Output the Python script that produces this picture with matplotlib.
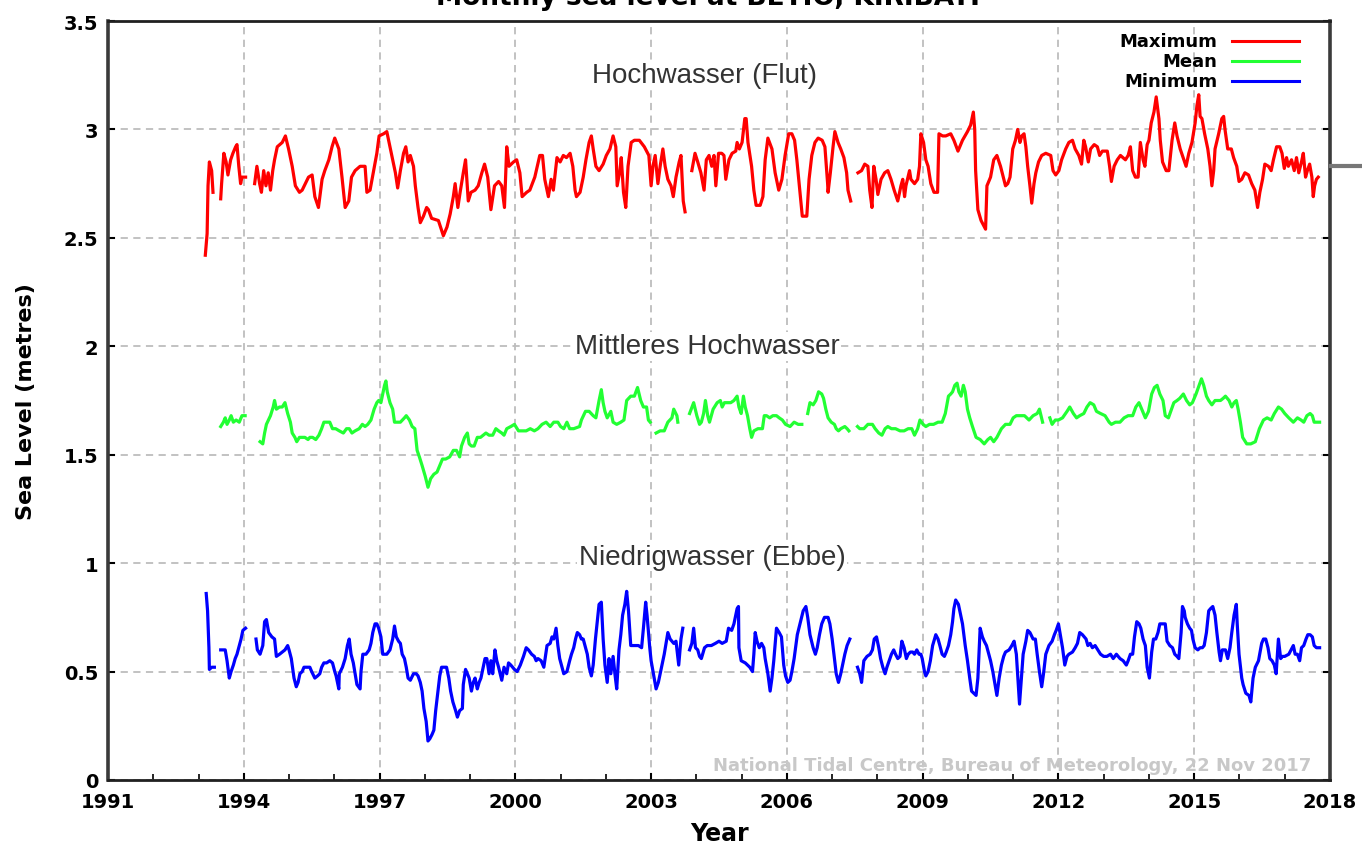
import numpy as np
import matplotlib
matplotlib.use("Agg")
import matplotlib.pyplot as plt
import matplotlib.ticker as mticker
from matplotlib.lines import Line2D

nan = np.nan

# Maximum monthly sea level (m), nan = data gap
max_years = [
    1993.15, 1993.19, 1993.21, 1993.24, 1993.29, 1993.32, 1993.40,
    1993.49, 1993.51, 1993.56, 1993.61, 1993.65, 1993.71, 1993.76, 1993.82, 1993.85, 1993.89, 1993.93, 1993.96, 1994.04, 1994.14,
    1994.24, 1994.29, 1994.35, 1994.39, 1994.44, 1994.49, 1994.54, 1994.59, 1994.64, 1994.68, 1994.74, 1994.85, 1994.92, 1994.99,
    1995.07, 1995.14, 1995.23, 1995.29, 1995.36, 1995.43, 1995.51, 1995.57, 1995.65, 1995.73, 1995.79, 1995.88, 1995.95, 1996.01,
    1996.10, 1996.17, 1996.24, 1996.32, 1996.38, 1996.46, 1996.57, 1996.68, 1996.72, 1996.79, 1996.87, 1996.94, 1996.99, 1997.09,
    1997.16, 1997.21, 1997.27, 1997.35, 1997.40, 1997.46, 1997.53, 1997.58, 1997.63, 1997.68, 1997.75, 1997.79, 1997.85, 1997.90,
    1997.97, 1998.04, 1998.08, 1998.15, 1998.30, 1998.41, 1998.49, 1998.56, 1998.63, 1998.67, 1998.73, 1998.78, 1998.85, 1998.90,
    1998.96, 1999.02, 1999.11, 1999.18, 1999.26, 1999.32, 1999.39, 1999.46, 1999.54, 1999.63, 1999.70, 1999.76, 1999.81, 1999.86,
    1999.96, 2000.03, 2000.10, 2000.15, 2000.25, 2000.32, 2000.43, 2000.54, 2000.60, 2000.65, 2000.73, 2000.79,
    2000.84, 2000.92, 2000.99, 2001.06, 2001.13, 2001.21, 2001.27, 2001.32, 2001.35, 2001.43, 2001.50, 2001.56, 2001.63, 2001.68,
    2001.72, 2001.78, 2001.85, 2001.94, 2002.01, 2002.09, 2002.16, 2002.22, 2002.25, 2002.31, 2002.34, 2002.39, 2002.44, 2002.49,
    2002.56, 2002.63, 2002.74, 2002.85, 2002.95, 2003.00, 2003.04, 2003.09, 2003.15, 2003.20, 2003.26, 2003.31, 2003.37, 2003.44,
    2003.49, 2003.55, 2003.62, 2003.66, 2003.71, 2003.75, 2003.82,
    2003.90, 2003.97, 2004.03, 2004.10, 2004.17, 2004.22, 2004.28, 2004.34, 2004.39, 2004.43, 2004.49, 2004.56, 2004.61, 2004.65,
    2004.72, 2004.79, 2004.87, 2004.90, 2004.95, 2005.01, 2005.07, 2005.10, 2005.14, 2005.22, 2005.27, 2005.32, 2005.41, 2005.47,
    2005.52, 2005.58, 2005.67, 2005.74, 2005.82, 2005.89, 2005.96, 2006.04, 2006.11, 2006.17, 2006.22, 2006.29, 2006.34, 2006.44,
    2006.49, 2006.55, 2006.62, 2006.69, 2006.78, 2006.84, 2006.90, 2006.91, 2006.96, 2007.02, 2007.06, 2007.13, 2007.19, 2007.26,
    2007.32, 2007.35, 2007.41, 2007.49,
    2007.57, 2007.65, 2007.72, 2007.79, 2007.83, 2007.88, 2007.92, 2007.97, 2008.01, 2008.08, 2008.16, 2008.23, 2008.30, 2008.37,
    2008.45, 2008.52, 2008.56, 2008.60, 2008.63, 2008.71, 2008.74, 2008.82, 2008.89, 2008.93, 2008.96, 2009.02, 2009.07, 2009.12,
    2009.18, 2009.25, 2009.33, 2009.36, 2009.44, 2009.51, 2009.62, 2009.69, 2009.78, 2009.88, 2009.99, 2010.06, 2010.12, 2010.15,
    2010.17, 2010.22, 2010.29, 2010.39, 2010.42, 2010.50, 2010.57, 2010.64, 2010.72,
    2010.83, 2010.88, 2010.93, 2010.99, 2011.05, 2011.10, 2011.15, 2011.19, 2011.24, 2011.28, 2011.32, 2011.37, 2011.41, 2011.46,
    2011.50, 2011.56, 2011.63, 2011.72, 2011.83, 2011.88, 2011.94, 2012.01, 2012.07, 2012.16, 2012.23, 2012.31, 2012.37, 2012.45,
    2012.51, 2012.56, 2012.60, 2012.66, 2012.71, 2012.79, 2012.86, 2012.91, 2012.97, 2013.08, 2013.13, 2013.17, 2013.23, 2013.30,
    2013.37, 2013.48, 2013.54, 2013.59, 2013.64, 2013.70, 2013.76, 2013.81, 2013.87, 2013.91, 2013.96, 2014.00, 2014.05, 2014.11,
    2014.16, 2014.22, 2014.25, 2014.30, 2014.38, 2014.44, 2014.51, 2014.57, 2014.62, 2014.69, 2014.77, 2014.82, 2014.88, 2014.95,
    2015.02, 2015.06, 2015.10, 2015.13, 2015.17, 2015.23, 2015.30, 2015.35, 2015.39, 2015.43, 2015.46, 2015.54, 2015.61, 2015.65,
    2015.68, 2015.74, 2015.82, 2015.87, 2015.94, 2015.99, 2016.05, 2016.12, 2016.20, 2016.27, 2016.34, 2016.40, 2016.45, 2016.51,
    2016.56, 2016.64, 2016.70, 2016.75, 2016.82, 2016.89, 2016.94, 2016.99, 2017.04, 2017.08, 2017.15, 2017.21, 2017.26, 2017.31,
    2017.37, 2017.41, 2017.46, 2017.50, 2017.55, 2017.60, 2017.63, 2017.66, 2017.70, 2017.74,
]
max_vals = [
    2.42, 2.52, 2.74, 2.85, 2.81, 2.71, nan,
    2.68, 2.75, 2.89, 2.85, 2.79, 2.86, 2.89, 2.92, 2.93, 2.83, 2.75, 2.78, 2.78, nan,
    2.75, 2.83, 2.75, 2.71, 2.81, 2.74, 2.80, 2.72, 2.81, 2.86, 2.92, 2.94, 2.97, 2.91,
    2.83, 2.74, 2.71, 2.72, 2.75, 2.78, 2.79, 2.69, 2.64, 2.77, 2.81, 2.86, 2.92, 2.96,
    2.91, 2.78, 2.64, 2.67, 2.78, 2.81, 2.83, 2.83, 2.71, 2.72, 2.81, 2.89, 2.97, 2.98,
    2.99, 2.94, 2.88, 2.80, 2.73, 2.81, 2.89, 2.92, 2.85, 2.88, 2.83, 2.74, 2.64, 2.57,
    2.60, 2.64, 2.63, 2.59, 2.58, 2.51, 2.55, 2.61, 2.69, 2.75, 2.64, 2.71, 2.80, 2.86,
    2.67, 2.71, 2.72, 2.74, 2.80, 2.84, 2.78, 2.63, 2.74, 2.76, 2.74, 2.64, 2.92, 2.83,
    2.85, 2.86, 2.80, 2.69, 2.71, 2.72, 2.78, 2.88, 2.88, 2.77, 2.69, 2.77,
    2.72, 2.87, 2.85, 2.88, 2.87, 2.89, 2.83, 2.72, 2.69, 2.71, 2.78, 2.86, 2.94, 2.97,
    2.91, 2.83, 2.81, 2.84, 2.88, 2.91, 2.97, 2.92, 2.74, 2.81, 2.87, 2.71, 2.64, 2.83,
    2.94, 2.95, 2.95, 2.92, 2.88, 2.74, 2.83, 2.88, 2.75, 2.83, 2.91, 2.83, 2.77, 2.74,
    2.69, 2.78, 2.85, 2.88, 2.67, 2.62, nan,
    2.81, 2.89, 2.85, 2.80, 2.72, 2.86, 2.88, 2.83, 2.88, 2.74, 2.89, 2.89, 2.88, 2.77,
    2.86, 2.89, 2.90, 2.94, 2.91, 2.94, 3.05, 3.05, 2.94, 2.83, 2.72, 2.65, 2.65, 2.69,
    2.86, 2.96, 2.91, 2.80, 2.72, 2.77, 2.88, 2.98, 2.98, 2.95, 2.86, 2.71, 2.60, 2.60,
    2.77, 2.88, 2.94, 2.96, 2.95, 2.92, 2.75, 2.71, 2.80, 2.92, 2.99, 2.94, 2.91, 2.87,
    2.80, 2.72, 2.67, nan,
    2.80, 2.81, 2.84, 2.83, 2.72, 2.64, 2.83, 2.77, 2.70, 2.77, 2.80, 2.81, 2.77, 2.72,
    2.67, 2.74, 2.77, 2.69, 2.74, 2.81, 2.77, 2.75, 2.77, 2.83, 2.98, 2.94, 2.86, 2.83,
    2.75, 2.71, 2.71, 2.98, 2.97, 2.97, 2.98, 2.95, 2.90, 2.95, 2.99, 3.02, 3.08, 3.00,
    2.81, 2.63, 2.58, 2.54, 2.74, 2.78, 2.86, 2.88, 2.83,
    2.74, 2.75, 2.78, 2.91, 2.95, 3.00, 2.94, 2.97, 2.98, 2.92, 2.83, 2.74, 2.66, 2.75,
    2.80, 2.85, 2.88, 2.89, 2.88, 2.81, 2.79, 2.81, 2.86, 2.91, 2.94, 2.95, 2.91, 2.88,
    2.84, 2.95, 2.92, 2.85, 2.91, 2.93, 2.92, 2.88, 2.90, 2.90, 2.83, 2.76, 2.83, 2.86,
    2.88, 2.86, 2.88, 2.92, 2.81, 2.78, 2.78, 2.94, 2.86, 2.83, 2.93, 2.95, 3.03, 3.08,
    3.15, 3.05, 2.95, 2.85, 2.81, 2.81, 2.95, 3.03, 2.97, 2.91, 2.86, 2.83, 2.89, 2.94,
    3.03, 3.11, 3.16, 3.06, 3.05, 2.98, 2.91, 2.83, 2.74, 2.81, 2.91, 2.98, 3.05, 3.06,
    3.00, 2.91, 2.91, 2.87, 2.83, 2.76, 2.77, 2.80, 2.79, 2.75, 2.72, 2.64, 2.71, 2.77,
    2.84, 2.83, 2.81, 2.86, 2.92, 2.92, 2.89, 2.82, 2.87, 2.83, 2.86, 2.81, 2.87, 2.80,
    2.85, 2.89, 2.78, 2.81, 2.84, 2.78, 2.69, 2.74, 2.77, 2.78,
]

# Mean monthly sea level (m)
mean_years = [
    1993.49, 1993.55, 1993.59, 1993.63, 1993.68, 1993.72, 1993.77, 1993.83, 1993.90, 1993.96, 1994.03, 1994.20,
    1994.36, 1994.42, 1994.46, 1994.50, 1994.59, 1994.65, 1994.68, 1994.72, 1994.79, 1994.85, 1994.91, 1994.97, 1995.03, 1995.07,
    1995.13, 1995.17, 1995.23, 1995.29, 1995.35, 1995.42, 1995.46, 1995.52, 1995.59, 1995.66, 1995.72, 1995.77, 1995.83, 1995.90,
    1995.96, 1996.03, 1996.11, 1996.20, 1996.27, 1996.33, 1996.39, 1996.46, 1996.55, 1996.62, 1996.68, 1996.74, 1996.81, 1996.88,
    1996.94, 1996.98, 1997.03, 1997.07, 1997.11, 1997.14, 1997.17, 1997.23, 1997.29, 1997.33, 1997.40, 1997.46, 1997.55, 1997.59,
    1997.66, 1997.72, 1997.78, 1997.83, 1997.88, 1997.94, 1998.01, 1998.07, 1998.13, 1998.20, 1998.27, 1998.33, 1998.39, 1998.46,
    1998.55, 1998.63, 1998.70, 1998.77, 1998.81, 1998.88, 1998.94, 1998.98, 1999.03, 1999.09, 1999.16, 1999.23, 1999.29, 1999.35,
    1999.42, 1999.50, 1999.57, 1999.63, 1999.70, 1999.75, 1999.81, 1999.90, 1999.98, 2000.07, 2000.16, 2000.24, 2000.33, 2000.42,
    2000.50, 2000.59, 2000.68, 2000.77, 2000.85, 2000.94, 2001.00, 2001.07, 2001.14, 2001.20, 2001.29, 2001.42, 2001.46, 2001.55,
    2001.63, 2001.72, 2001.78, 2001.85, 2001.90, 2001.94, 2001.98, 2002.03, 2002.11, 2002.16, 2002.24, 2002.33, 2002.40, 2002.46,
    2002.55, 2002.63, 2002.70, 2002.77, 2002.83, 2002.90, 2002.94, 2002.98, 2003.05,
    2003.11, 2003.20, 2003.29, 2003.37, 2003.46, 2003.50, 2003.57, 2003.59, 2003.72,
    2003.85, 2003.94, 2004.01, 2004.07, 2004.11, 2004.16, 2004.20, 2004.25, 2004.29, 2004.37, 2004.46, 2004.53,
    2004.57, 2004.62, 2004.68, 2004.76, 2004.83, 2004.90, 2004.94, 2004.99, 2005.04, 2005.08, 2005.13, 2005.18, 2005.22, 2005.27,
    2005.36, 2005.46, 2005.50, 2005.55, 2005.62, 2005.69, 2005.77, 2005.83, 2005.90, 2005.97, 2006.07, 2006.16, 2006.25, 2006.33,
    2006.40,
    2006.46, 2006.51, 2006.58, 2006.64, 2006.70, 2006.77, 2006.81, 2006.86, 2006.91, 2006.98, 2007.05, 2007.09, 2007.14, 2007.19,
    2007.28, 2007.33, 2007.37, 2007.47,
    2007.56, 2007.61, 2007.70, 2007.79, 2007.89, 2007.95, 2008.03, 2008.10, 2008.17, 2008.23, 2008.31, 2008.40, 2008.50, 2008.59,
    2008.68, 2008.76, 2008.82, 2008.89, 2008.94, 2009.01, 2009.07, 2009.15, 2009.24, 2009.34, 2009.43, 2009.50, 2009.57, 2009.62,
    2009.66, 2009.71, 2009.76, 2009.80, 2009.85, 2009.90, 2009.94, 2009.99, 2010.04, 2010.10, 2010.18, 2010.27, 2010.36, 2010.44,
    2010.50, 2010.57, 2010.64, 2010.74, 2010.83, 2010.93, 2011.00, 2011.07, 2011.16, 2011.25, 2011.35, 2011.44, 2011.53, 2011.58,
    2011.65, 2011.73,
    2011.81, 2011.86, 2011.93, 2012.00, 2012.09, 2012.19, 2012.25, 2012.33, 2012.40, 2012.47, 2012.56, 2012.63, 2012.70, 2012.78,
    2012.84, 2012.93, 2013.03, 2013.12, 2013.17, 2013.26, 2013.36, 2013.45, 2013.54, 2013.64, 2013.71, 2013.78, 2013.84, 2013.92,
    2013.99, 2014.06, 2014.12, 2014.18, 2014.24, 2014.31, 2014.36, 2014.43, 2014.50, 2014.55, 2014.62, 2014.68, 2014.76, 2014.83,
    2014.90, 2014.96, 2015.04, 2015.11, 2015.16, 2015.21, 2015.27, 2015.32, 2015.39, 2015.46, 2015.50, 2015.58, 2015.64, 2015.69,
    2015.77, 2015.83, 2015.88, 2015.93, 2015.97, 2016.02, 2016.07, 2016.16, 2016.25, 2016.35, 2016.44, 2016.53, 2016.61, 2016.70,
    2016.77, 2016.86, 2016.93, 2017.00, 2017.09, 2017.19, 2017.28, 2017.36, 2017.42, 2017.49, 2017.56, 2017.61, 2017.65, 2017.73,
    2017.77,
]
mean_vals = [
    1.63, 1.65, 1.67, 1.64, 1.66, 1.68, 1.65, 1.66, 1.65, 1.68, 1.68, nan,
    1.56, 1.55, 1.60, 1.64, 1.68, 1.72, 1.75, 1.71, 1.72, 1.72, 1.74, 1.69, 1.65, 1.60,
    1.58, 1.56, 1.58, 1.58, 1.58, 1.57, 1.58, 1.58, 1.57, 1.59, 1.62, 1.65, 1.65, 1.65,
    1.62, 1.62, 1.61, 1.60, 1.62, 1.62, 1.60, 1.61, 1.62, 1.64, 1.63, 1.64, 1.66, 1.71,
    1.74, 1.75, 1.74, 1.78, 1.82, 1.84, 1.79, 1.74, 1.71, 1.65, 1.65, 1.65, 1.67, 1.68,
    1.66, 1.63, 1.62, 1.52, 1.49, 1.45, 1.40, 1.35, 1.39, 1.41, 1.42, 1.45, 1.48, 1.48,
    1.49, 1.52, 1.52, 1.49, 1.54, 1.58, 1.60, 1.55, 1.54, 1.54, 1.58, 1.58, 1.59, 1.60,
    1.59, 1.59, 1.62, 1.61, 1.60, 1.59, 1.62, 1.63, 1.64, 1.61, 1.61, 1.61, 1.62, 1.61,
    1.62, 1.64, 1.65, 1.63, 1.65, 1.65, 1.63, 1.62, 1.65, 1.62, 1.62, 1.63, 1.66, 1.70,
    1.70, 1.68, 1.67, 1.75, 1.80, 1.74, 1.70, 1.67, 1.70, 1.65, 1.64, 1.65, 1.66, 1.75,
    1.77, 1.77, 1.81, 1.75, 1.72, 1.72, 1.66, 1.65, nan,
    1.60, 1.61, 1.61, 1.65, 1.67, 1.71, 1.68, 1.65, nan,
    1.69, 1.74, 1.68, 1.64, 1.65, 1.69, 1.75, 1.68, 1.65, 1.71, 1.74, 1.75,
    1.72, 1.74, 1.74, 1.74, 1.75, 1.77, 1.72, 1.69, 1.77, 1.72, 1.68, 1.62, 1.58, 1.61,
    1.62, 1.62, 1.68, 1.68, 1.67, 1.68, 1.68, 1.67, 1.66, 1.64, 1.63, 1.65, 1.64, 1.64,
    nan,
    1.69, 1.74, 1.73, 1.75, 1.79, 1.78, 1.76, 1.71, 1.67, 1.65, 1.64, 1.62, 1.61, 1.62,
    1.63, 1.62, 1.61, nan,
    1.63, 1.62, 1.62, 1.64, 1.64, 1.62, 1.60, 1.59, 1.62, 1.63, 1.62, 1.62, 1.61, 1.61,
    1.62, 1.62, 1.59, 1.62, 1.66, 1.64, 1.63, 1.64, 1.64, 1.65, 1.65, 1.69, 1.77, 1.78,
    1.79, 1.82, 1.83, 1.79, 1.77, 1.82, 1.79, 1.71, 1.67, 1.63, 1.58, 1.57, 1.55, 1.57,
    1.58, 1.56, 1.58, 1.62, 1.64, 1.64, 1.67, 1.68, 1.68, 1.68, 1.66, 1.68, 1.69, 1.71,
    1.65, nan,
    1.67, 1.64, 1.66, 1.66, 1.67, 1.70, 1.72, 1.69, 1.67, 1.68, 1.69, 1.72, 1.74, 1.73,
    1.70, 1.69, 1.68, 1.65, 1.64, 1.65, 1.65, 1.67, 1.68, 1.68, 1.72, 1.74, 1.71, 1.67,
    1.70, 1.78, 1.81, 1.82, 1.78, 1.75, 1.68, 1.67, 1.71, 1.74, 1.75, 1.76, 1.78, 1.75,
    1.73, 1.74, 1.78, 1.82, 1.85, 1.82, 1.77, 1.75, 1.73, 1.75, 1.75, 1.75, 1.76, 1.77,
    1.75, 1.72, 1.74, 1.75, 1.71, 1.65, 1.58, 1.55, 1.55, 1.56, 1.62, 1.66, 1.67, 1.66,
    1.69, 1.72, 1.71, 1.69, 1.67, 1.65, 1.67, 1.66, 1.65, 1.68, 1.69, 1.68, 1.65, 1.65,
    1.65,
]

# Minimum monthly sea level (m)
min_years = [
    1993.17, 1993.20, 1993.23, 1993.24, 1993.29, 1993.35, 1993.42,
    1993.49, 1993.59, 1993.63, 1993.68, 1993.72, 1993.77, 1993.81, 1993.85, 1993.90, 1993.94, 1993.98, 1994.04, 1994.15,
    1994.27, 1994.30, 1994.36, 1994.42, 1994.46, 1994.50, 1994.55, 1994.62, 1994.68, 1994.72, 1994.79, 1994.85, 1994.91, 1994.97,
    1995.00, 1995.05, 1995.11, 1995.16, 1995.20, 1995.24, 1995.29, 1995.33, 1995.40, 1995.46, 1995.50, 1995.57, 1995.63, 1995.68,
    1995.72, 1995.77, 1995.83, 1995.90, 1995.96, 1996.01, 1996.04, 1996.10, 1996.11, 1996.18, 1996.24, 1996.29, 1996.33, 1996.37,
    1996.42, 1996.46, 1996.50, 1996.57, 1996.59, 1996.63, 1996.70, 1996.77, 1996.81, 1996.85, 1996.90, 1996.94, 1996.98, 1997.03,
    1997.07, 1997.16, 1997.23, 1997.29, 1997.33, 1997.37, 1997.42, 1997.46, 1997.50, 1997.55, 1997.59, 1997.63, 1997.68, 1997.75,
    1997.81, 1997.85, 1997.90, 1997.94, 1997.98, 1998.03, 1998.07, 1998.11, 1998.16, 1998.20, 1998.24, 1998.29, 1998.33, 1998.37,
    1998.42, 1998.48, 1998.53, 1998.57, 1998.62, 1998.68, 1998.72, 1998.77, 1998.83, 1998.85, 1998.90, 1998.94, 1998.98, 1999.03,
    1999.07, 1999.11, 1999.16, 1999.20, 1999.24, 1999.29, 1999.33, 1999.37, 1999.42, 1999.46, 1999.50, 1999.55, 1999.59, 1999.63,
    1999.70, 1999.75, 1999.81, 1999.85, 1999.90, 1999.94, 1999.98, 2000.04, 2000.11, 2000.18, 2000.24, 2000.29, 2000.36, 2000.42,
    2000.46, 2000.50, 2000.57, 2000.63, 2000.70, 2000.77, 2000.81, 2000.85, 2000.90, 2000.94, 2000.98, 2001.03, 2001.07, 2001.14,
    2001.20, 2001.24, 2001.29, 2001.33, 2001.37, 2001.42, 2001.46, 2001.50, 2001.55, 2001.59, 2001.63, 2001.68, 2001.72, 2001.77,
    2001.81, 2001.85, 2001.90, 2001.94, 2001.98, 2002.03, 2002.07, 2002.11, 2002.16, 2002.20, 2002.24, 2002.29, 2002.33, 2002.37,
    2002.42, 2002.46, 2002.50, 2002.55, 2002.63, 2002.72, 2002.79, 2002.83, 2002.88, 2002.91, 2002.97, 2003.00, 2003.05, 2003.11,
    2003.16, 2003.20, 2003.24, 2003.29, 2003.33, 2003.37, 2003.42, 2003.46, 2003.50, 2003.55, 2003.61, 2003.66, 2003.70, 2003.78,
    2003.85, 2003.90, 2003.94, 2003.98, 2004.03, 2004.07, 2004.11, 2004.18, 2004.24, 2004.33, 2004.42, 2004.50,
    2004.57, 2004.66, 2004.71, 2004.78, 2004.83, 2004.90, 2004.93, 2004.94, 2004.99, 2005.08, 2005.18, 2005.24, 2005.27, 2005.30,
    2005.34, 2005.39, 2005.44, 2005.49, 2005.52, 2005.58, 2005.63, 2005.67, 2005.71, 2005.77, 2005.83, 2005.88, 2005.93, 2005.97,
    2006.02, 2006.07, 2006.11, 2006.16, 2006.23, 2006.30, 2006.36, 2006.42, 2006.46, 2006.51, 2006.58, 2006.63, 2006.67, 2006.72,
    2006.77, 2006.83, 2006.91, 2006.95, 2007.00, 2007.05, 2007.09, 2007.14, 2007.19, 2007.23, 2007.28, 2007.33, 2007.39, 2007.48,
    2007.56, 2007.61, 2007.65, 2007.70, 2007.77, 2007.84, 2007.89, 2007.93, 2007.98, 2008.03, 2008.07, 2008.12, 2008.17, 2008.21,
    2008.26, 2008.31, 2008.36, 2008.40, 2008.45, 2008.50, 2008.54, 2008.59, 2008.64, 2008.68, 2008.73, 2008.78, 2008.82, 2008.87,
    2008.92, 2008.96, 2008.99, 2009.04, 2009.07, 2009.12, 2009.17, 2009.22, 2009.29, 2009.34, 2009.38, 2009.43, 2009.48, 2009.52,
    2009.57, 2009.62, 2009.66, 2009.69, 2009.73, 2009.79, 2009.82, 2009.88, 2009.94, 2009.99, 2010.04, 2010.08, 2010.13, 2010.18,
    2010.22, 2010.27, 2010.32, 2010.36, 2010.41, 2010.46, 2010.50, 2010.55, 2010.60, 2010.64, 2010.69, 2010.74, 2010.79, 2010.83,
    2010.91, 2010.97, 2011.02, 2011.07, 2011.11, 2011.14, 2011.19, 2011.22, 2011.28, 2011.32, 2011.37, 2011.44, 2011.49, 2011.53,
    2011.58, 2011.63, 2011.67, 2011.72, 2011.79, 2011.86, 2011.91, 2011.95, 2012.00, 2012.05, 2012.09, 2012.14, 2012.19, 2012.23,
    2012.31, 2012.37, 2012.42, 2012.47, 2012.53, 2012.61, 2012.65, 2012.70, 2012.75, 2012.81, 2012.87, 2012.93, 2013.00, 2013.07,
    2013.15, 2013.21, 2013.28, 2013.36, 2013.43, 2013.50, 2013.54, 2013.59, 2013.64, 2013.68, 2013.73, 2013.78, 2013.82, 2013.87,
    2013.92, 2013.96, 2014.01, 2014.06, 2014.10, 2014.15, 2014.20, 2014.24, 2014.31, 2014.36, 2014.40, 2014.46, 2014.52, 2014.57,
    2014.62, 2014.66, 2014.71, 2014.74, 2014.78, 2014.80, 2014.85, 2014.90, 2014.94, 2014.97, 2015.02, 2015.08, 2015.13, 2015.18,
    2015.22, 2015.27, 2015.32, 2015.36, 2015.41, 2015.46, 2015.50, 2015.55, 2015.58, 2015.62, 2015.69, 2015.74, 2015.79, 2015.83,
    2015.88, 2015.93, 2015.95, 2015.99, 2016.05, 2016.08, 2016.14, 2016.21, 2016.25, 2016.30, 2016.35, 2016.42, 2016.49, 2016.53,
    2016.58, 2016.63, 2016.67, 2016.72, 2016.77, 2016.81, 2016.86, 2016.91, 2016.95, 2017.00, 2017.09, 2017.14, 2017.19, 2017.23,
    2017.28, 2017.33, 2017.37, 2017.42, 2017.47, 2017.51, 2017.56, 2017.61, 2017.65, 2017.70, 2017.77,
]
min_vals = [
    0.86, 0.78, 0.61, 0.51, 0.52, 0.52, nan,
    0.60, 0.60, 0.55, 0.47, 0.50, 0.53, 0.56, 0.58, 0.62, 0.65, 0.69, 0.70, nan,
    0.65, 0.60, 0.58, 0.62, 0.73, 0.74, 0.68, 0.66, 0.65, 0.57, 0.58, 0.59, 0.60, 0.62,
    0.60, 0.56, 0.47, 0.43, 0.45, 0.49, 0.50, 0.52, 0.52, 0.52, 0.50, 0.47, 0.48, 0.49,
    0.52, 0.54, 0.54, 0.55, 0.54, 0.50, 0.48, 0.42, 0.49, 0.52, 0.56, 0.62, 0.65, 0.58,
    0.54, 0.49, 0.44, 0.42, 0.50, 0.58, 0.58, 0.60, 0.63, 0.68, 0.72, 0.72, 0.70, 0.66,
    0.58, 0.58, 0.60, 0.65, 0.71, 0.66, 0.64, 0.63, 0.58, 0.56, 0.52, 0.47, 0.46, 0.49,
    0.49, 0.48, 0.45, 0.41, 0.33, 0.27, 0.18, 0.19, 0.21, 0.23, 0.32, 0.41, 0.48, 0.52,
    0.52, 0.52, 0.47, 0.41, 0.36, 0.32, 0.29, 0.32, 0.33, 0.44, 0.51, 0.49, 0.47, 0.41,
    0.45, 0.47, 0.42, 0.45, 0.47, 0.52, 0.56, 0.56, 0.49, 0.55, 0.49, 0.60, 0.55, 0.52,
    0.46, 0.52, 0.49, 0.54, 0.53, 0.52, 0.51, 0.50, 0.53, 0.57, 0.61, 0.60, 0.58, 0.57,
    0.55, 0.56, 0.55, 0.52, 0.62, 0.63, 0.66, 0.65, 0.70, 0.62, 0.56, 0.52, 0.49, 0.50,
    0.55, 0.58, 0.61, 0.65, 0.68, 0.67, 0.65, 0.65, 0.61, 0.58, 0.52, 0.48, 0.53, 0.65,
    0.73, 0.81, 0.82, 0.65, 0.53, 0.45, 0.56, 0.49, 0.57, 0.49, 0.42, 0.60, 0.67, 0.76,
    0.81, 0.87, 0.78, 0.62, 0.62, 0.62, 0.61, 0.70, 0.82, 0.76, 0.61, 0.55, 0.49, 0.42,
    0.45, 0.49, 0.53, 0.58, 0.63, 0.68, 0.65, 0.64, 0.63, 0.64, 0.53, 0.65, 0.70, nan,
    0.60, 0.63, 0.70, 0.61, 0.60, 0.57, 0.56, 0.61, 0.62, 0.62, 0.63, 0.64,
    0.63, 0.64, 0.70, 0.69, 0.72, 0.79, 0.80, 0.61, 0.55, 0.54, 0.52, 0.50, 0.58, 0.68,
    0.64, 0.61, 0.63, 0.61, 0.56, 0.49, 0.41, 0.47, 0.55, 0.70, 0.68, 0.66, 0.53, 0.48,
    0.45, 0.46, 0.50, 0.56, 0.67, 0.73, 0.78, 0.80, 0.75, 0.67, 0.61, 0.58, 0.61, 0.67,
    0.72, 0.75, 0.75, 0.72, 0.65, 0.56, 0.49, 0.45, 0.49, 0.53, 0.58, 0.62, 0.65, nan,
    0.52, 0.49, 0.45, 0.55, 0.57, 0.58, 0.60, 0.65, 0.66, 0.61, 0.56, 0.52, 0.49, 0.52,
    0.55, 0.58, 0.60, 0.58, 0.56, 0.57, 0.64, 0.61, 0.56, 0.58, 0.59, 0.59, 0.58, 0.60,
    0.58, 0.58, 0.56, 0.50, 0.48, 0.50, 0.55, 0.62, 0.67, 0.65, 0.62, 0.58, 0.57, 0.59,
    0.62, 0.67, 0.73, 0.79, 0.83, 0.81, 0.78, 0.72, 0.62, 0.55, 0.47, 0.41, 0.40, 0.39,
    0.47, 0.70, 0.66, 0.64, 0.62, 0.58, 0.55, 0.50, 0.44, 0.39, 0.47, 0.53, 0.57, 0.59,
    0.60, 0.62, 0.64, 0.58, 0.45, 0.35, 0.49, 0.58, 0.64, 0.69, 0.68, 0.65, 0.65, 0.58,
    0.50, 0.43, 0.49, 0.58, 0.62, 0.64, 0.67, 0.69, 0.72, 0.66, 0.61, 0.53, 0.57, 0.58,
    0.59, 0.61, 0.63, 0.68, 0.67, 0.65, 0.62, 0.63, 0.61, 0.62, 0.60, 0.58, 0.57, 0.57,
    0.58, 0.56, 0.58, 0.56, 0.55, 0.53, 0.55, 0.58, 0.58, 0.66, 0.73, 0.72, 0.70, 0.65,
    0.62, 0.52, 0.47, 0.59, 0.65, 0.65, 0.68, 0.72, 0.72, 0.72, 0.64, 0.62, 0.61, 0.58,
    0.57, 0.56, 0.68, 0.80, 0.78, 0.75, 0.72, 0.70, 0.69, 0.65, 0.61, 0.60, 0.61, 0.61,
    0.62, 0.68, 0.78, 0.79, 0.80, 0.76, 0.68, 0.59, 0.55, 0.60, 0.60, 0.56, 0.61, 0.68,
    0.76, 0.81, 0.72, 0.58, 0.47, 0.44, 0.40, 0.39, 0.36, 0.47, 0.52, 0.55, 0.63, 0.65,
    0.65, 0.61, 0.56, 0.55, 0.53, 0.49, 0.65, 0.56, 0.57, 0.57, 0.58, 0.60, 0.62, 0.58,
    0.58, 0.55, 0.61, 0.62, 0.65, 0.67, 0.67, 0.66, 0.62, 0.61, 0.61,
]

series_labels = ["Maximum", "Mean", "Minimum"]
series_colors = ["#ff0000", "#22ff33", "#0000ff"]

band_labels = ["Hochwasser (Flut)", "Mittleres Hochwasser", "Niedrigwasser (Ebbe)"]
band_x = [2004.19, 2004.24, 2004.35]
band_y = [3.25, 2.0, 1.03]

plt.rcParams["font.family"] = "DejaVu Sans"
plt.rcParams["font.weight"] = "bold"

W, H = 1362, 845
fig = plt.figure(figsize=(W / 100, H / 100), dpi=100)
ax = fig.add_axes([108 / W, 64 / H, 1222 / W, 759 / H])

ax.plot(max_years, max_vals, color=series_colors[0], linewidth=2.3, zorder=3)
ax.plot(mean_years, mean_vals, color=series_colors[1], linewidth=2.3, zorder=3)
ax.plot(min_years, min_vals, color=series_colors[2], linewidth=2.3, zorder=3)

ax.set_xlim(1991, 2018)
ax.set_ylim(0, 3.5)
ax.set_xticks(range(1991, 2019, 3))
ax.set_xticks(range(1991, 2019), minor=True)
ax.set_yticks(np.arange(0, 3.51, 0.5))
ax.yaxis.set_major_formatter(mticker.FuncFormatter(lambda v, _: f"{v:g}"))

ax.set_axisbelow(True)
ax.grid(True, which="major", color="#bdbdbd", linestyle=(0, (4, 3)), linewidth=1.3)

ax.tick_params(axis="both", which="major", direction="in", length=5, width=1.5,
               labelsize=14, colors="black")
ax.tick_params(axis="y", which="major", right=True, pad=7)
ax.tick_params(axis="x", which="major", pad=9)
ax.tick_params(axis="x", which="minor", direction="in", length=4, width=1.2, bottom=True)

for side in ["left", "right"]:
    ax.spines[side].set_linewidth(2.6)
    ax.spines[side].set_color("#3a3a3a")
for side in ["top", "bottom"]:
    ax.spines[side].set_linewidth(2.0)
    ax.spines[side].set_color("#202020")

ax.set_xlabel("Year", fontsize=17, fontweight="bold", labelpad=7)
ax.set_ylabel("Sea Level (metres)", fontsize=16, fontweight="bold", labelpad=20)

# German annotations with white box over the grid
for lbl, bx, by in zip(band_labels, band_x, band_y):
    ax.text(bx, by, lbl, ha="center", va="center", fontsize=20, fontweight="normal",
            family="Liberation Sans", color="#333333", zorder=4,
            bbox=dict(facecolor="white", edgecolor="none", pad=1))

# legend - labels right aligned, line sample to the right
leg_y = [0.974, 0.947, 0.921]
for lbl, col, ly in zip(series_labels, series_colors, leg_y):
    ax.text(0.908, ly, lbl, transform=ax.transAxes, ha="right", va="center",
            fontsize=13, fontweight="bold", color="black", zorder=5)
    ax.add_line(Line2D([0.920, 0.975], [ly, ly], transform=ax.transAxes,
                       color=col, linewidth=2.2, zorder=5))

ax.text(0.985, 0.02, "National Tidal Centre, Bureau of Meteorology, 22 Nov 2017",
        transform=ax.transAxes, ha="right", va="center", fontsize=13,
        fontweight="bold", color="#c8c8c8", zorder=2)

# title is clipped by the top edge of the image
fig.text(708 / W, 1 - 5 / H, "Monthly sea level at BETIO, KIRIBATI", ha="center",
         va="baseline", fontsize=19, fontweight="bold")

# grey stub to the right of the frame
fig.add_artist(Line2D([1331 / W, 1.0], [1 - 167 / H, 1 - 167 / H], color="#777777",
                      linewidth=3))

fig.savefig("out.png", dpi=100)
